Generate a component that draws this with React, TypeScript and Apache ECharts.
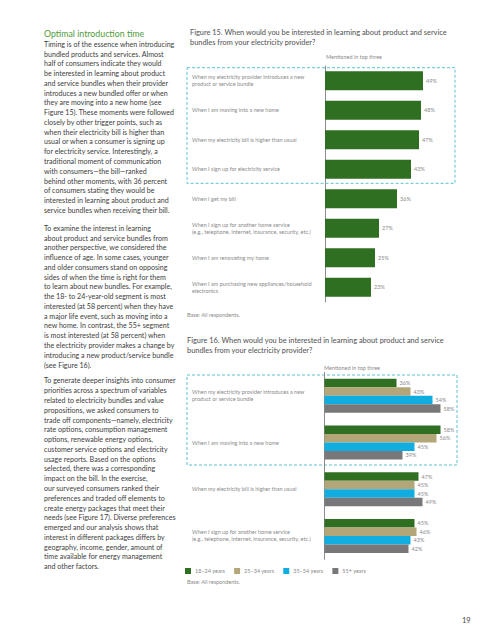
import React, { useEffect, useRef } from "react";
import * as echarts from "echarts";

// ---------- Figure 15 data ----------
const fig15Categories = [
  "When my electricity provider introduces a new\nproduct or service bundle",
  "When I am moving into a new home",
  "When my electricity bill is higher than usual",
  "When I sign up for electricity service",
  "When I get my bill",
  "When I sign up for another home service\n(e.g., telephone, Internet, insurance, security, etc.)",
  "When I am renovating my home",
  "When I am purchasing new appliances/household\nelectronics",
];
const fig15Values = [49, 48, 47, 43, 36, 27, 25, 23];

// ---------- Figure 16 data ----------
const fig16Categories = [
  "When my electricity provider introduces a new\nproduct or service bundle",
  "When I am moving into a new home",
  "When my electricity bill is higher than usual",
  "When I sign up for another home service\n(e.g., telephone, Internet, insurance, security, etc.)",
];
const ageGroups = ["18–24 years", "25–34 years", "35–54 years", "55+ years"];
const age18to24 = [36, 58, 47, 45];
const age25to34 = [43, 56, 45, 46];
const age35to54 = [54, 45, 45, 43];
const age55plus = [58, 39, 49, 42];

// ---------- Text ----------
const para1 = [
  "Timing is of the essence when introducing",
  "bundled products and services. Almost",
  "half of consumers indicate they would",
  "be interested in learning about product",
  "and service bundles when their provider",
  "introduces a new bundled offer or when",
  "they are moving into a new home (see",
  "Figure 15). These moments were followed",
  "closely by other trigger points, such as",
  "when their electricity bill is higher than",
  "usual or when a consumer is signing up",
  "for electricity service. Interestingly, a",
  "traditional moment of communication",
  "with consumers—the bill—ranked",
  "behind other moments, with 36 percent",
  "of consumers stating they would be",
  "interested in learning about product and",
  "service bundles when receiving their bill.",
];
const para2 = [
  "To examine the interest in learning",
  "about product and service bundles from",
  "another perspective, we considered the",
  "influence of age. In some cases, younger",
  "and older consumers stand on opposing",
  "sides of when the time is right for them",
  "to learn about new bundles. For example,",
  "the 18- to 24-year-old segment is most",
  "interested (at 58 percent) when they have",
  "a major life event, such as moving into a",
  "new home. In contrast, the 55+ segment",
  "is most interested (at 58 percent) when",
  "the electricity provider makes a change by",
  "introducing a new product/service bundle",
  "(see Figure 16).",
];
const para3 = [
  "To generate deeper insights into consumer",
  "priorities across a spectrum of variables",
  "related to electricity bundles and value",
  "propositions, we asked consumers to",
  "trade off components—namely, electricity",
  "rate options, consumption management",
  "options, renewable energy options,",
  "customer service options and electricity",
  "usage reports. Based on the options",
  "selected, there was a corresponding",
  "impact on the bill. In the exercise,",
  "our surveyed consumers ranked their",
  "preferences and traded off elements to",
  "create energy packages that meet their",
  "needs (see Figure 17). Diverse preferences",
  "emerged and our analysis shows that",
  "interest in different packages differs by",
  "geography, income, gender, amount of",
  "time available for energy management",
  "and other factors.",
];

const GREEN = "#2f6f22";
const TAN = "#b3a679";
const BLUE = "#12ade0";
const GRAY = "#78787a";
const FONT = "Lato, 'Open Sans', sans-serif";
const LABEL_COLOR = "#8a8a8a";
const BODY_COLOR = "#3d3d3d";
const LH = 9.77;

export default function App() {
  const ref = useRef<HTMLDivElement>(null);
  useEffect(() => {
    if (!ref.current) return;
    const chart = echarts.init(ref.current, undefined, { renderer: "svg" });

    const labelCfg = {
      show: true,
      position: "right" as const,
      distance: 3,
      formatter: "{c}%",
      fontSize: 5.5,
      color: LABEL_COLOR,
      fontFamily: FONT,
    };

    const catAxis = (grid: number, margin: number) => ({
      type: "category" as const,
      gridIndex: grid,
      inverse: true,
      axisTick: { show: false },
      axisLine: { show: true, lineStyle: { color: "#8c8c8c", width: 1 } },
      axisLabel: {
        align: "left" as const,
        margin,
        fontSize: 5.5,
        lineHeight: 7,
        color: LABEL_COLOR,
        fontFamily: FONT,
      },
    });

    const bodyText = (lines: string[], firstCenter: number) => ({
      type: "text",
      left: 44,
      top: firstCenter - LH / 2,
      style: {
        text: lines.join("\n"),
        fontSize: 7.1,
        lineHeight: LH,
        fill: BODY_COLOR,
        fontFamily: FONT,
      },
    });

    const small = (text: string, x: number, y: number, extra: any = {}) => ({
      type: "text",
      x,
      y,
      style: {
        text,
        fontSize: 5.5,
        fill: LABEL_COLOR,
        fontFamily: FONT,
        verticalAlign: "middle",
        ...extra,
      },
    });

    chart.setOption({
      animation: false,
      backgroundColor: "#ffffff",
      grid: [
        { left: 325, top: 66, width: 130, height: 236 },
        { left: 324.5, top: 372.5, width: 130, height: 186.8 },
      ],
      xAxis: [
        { type: "value", gridIndex: 0, min: 0, max: 65, show: false },
        { type: "value", gridIndex: 1, min: 0, max: 65, show: false },
      ],
      yAxis: [
        { ...catAxis(0, 133), data: fig15Categories },
        { ...catAxis(1, 132.5), data: fig16Categories },
      ],
      legend: {
        data: ageGroups,
        left: 185,
        top: 568,
        padding: 0,
        itemWidth: 6,
        itemHeight: 6,
        itemGap: 9,
        icon: "rect",
        textStyle: { fontSize: 5.5, color: LABEL_COLOR, fontFamily: FONT, padding: [0, 0, 0, -1] },
      },
      series: [
        {
          type: "bar",
          xAxisIndex: 0,
          yAxisIndex: 0,
          data: fig15Values,
          barWidth: 19,
          itemStyle: { color: GREEN },
          label: labelCfg,
        },
        ...[age18to24, age25to34, age35to54, age55plus].map((vals, i) => ({
          type: "bar",
          name: ageGroups[i],
          xAxisIndex: 1,
          yAxisIndex: 1,
          data: vals,
          barWidth: 8.5,
          barGap: "0%",
          itemStyle: { color: [GREEN, TAN, BLUE, GRAY][i] },
          label: labelCfg,
        })),
      ],
      graphic: [
        {
          type: "text",
          x: 44,
          y: 33.3,
          style: {
            text: "Optimal introduction time",
            fontSize: 8.8,
            fill: "#4f9a3a",
            fontFamily: FONT,
            verticalAlign: "middle",
          },
        },
        bodyText(para1, 44.3),
        bodyText(para2, 228.3),
        bodyText(para3, 381),
        {
          type: "text",
          x: 190,
          y: 27,
          style: {
            text:
              "Figure 15. When would you be interested in learning about product and service\nbundles from your electricity provider?",
            fontSize: 7.4,
            lineHeight: 10,
            fill: "#5a5a5c",
            fontFamily: FONT,
            fontWeight: 500,
          },
        },
        small("Mentioned in top three", 326, 56.7),
        {
          type: "rect",
          shape: { x: 187, y: 67.7, width: 268, height: 115.6 },
          style: { fill: "none", stroke: "#5cc3cf", lineWidth: 1, lineDash: [3, 2] },
        },
        small("Base: All respondents.", 187, 315.3),
        {
          type: "text",
          x: 187,
          y: 335,
          style: {
            text:
              "Figure 16. When would you be interested in learning about product and service\nbundles from your electricity provider?",
            fontSize: 7.4,
            lineHeight: 10,
            fill: "#5a5a5c",
            fontFamily: FONT,
            fontWeight: 500,
          },
        },
        small("Mentioned in top three", 324, 368.3),
        {
          type: "rect",
          shape: { x: 187, y: 375, width: 270, height: 90 },
          style: { fill: "none", stroke: "#5cc3cf", lineWidth: 1, lineDash: [3, 2] },
        },
        small("Base: All respondents.", 187, 582),
        {
          type: "text",
          x: 462,
          y: 620,
          style: {
            text: "19",
            fontSize: 7.5,
            fill: "#444444",
            fontFamily: FONT,
            verticalAlign: "middle",
          },
        },
      ],
    });
    return () => chart.dispose();
  }, []);

  return (
    <div
      ref={ref}
      style={{ position: "fixed", left: 0, top: 0, width: 495, height: 640, background: "#fff" }}
    />
  );
}
